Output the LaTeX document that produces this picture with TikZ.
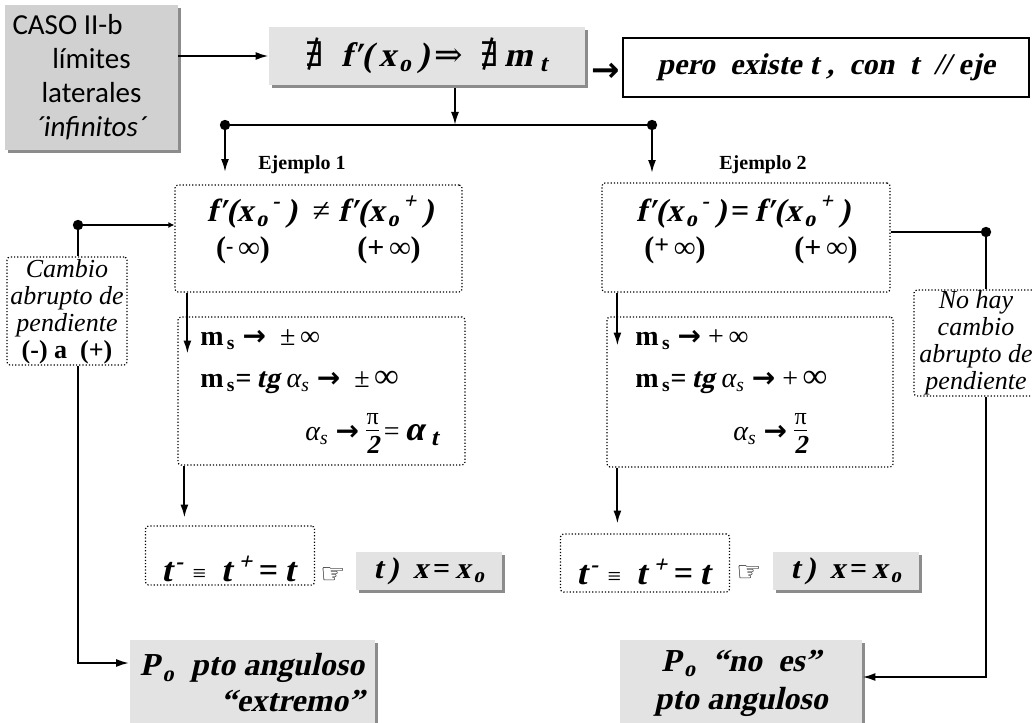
\documentclass[tikz,border=0pt]{standalone}
\usepackage{fontspec}
\setmainfont{Liberation Serif}[BoldItalicFont={Liberation Serif Bold},BoldItalicFeatures={FakeSlant=0.22}]
\newfontfamily\calib{Carlito}
\newfontfamily\djs{DejaVu Sans}
\newfontfamily\djserif{DejaVu Serif}
\usetikzlibrary{arrows.meta,shadows,calc}
\newcommand{\bi}{\bfseries\itshape}
\newcommand{\fs}[1]{\fontsize{#1}{#1}\selectfont}
\newcommand{\mysub}[1]{\kern1.5pt\textsubscript{#1}}
\newcommand{\mysup}[1]{\kern1.5pt\textsuperscript{#1}}
\newcommand{\pifrac}{\begin{tabular}{@{}c@{}}\fs{12}\mdseries π\\[-1pt]\hline\rule{0pt}{11pt}\fs{13}\bfseries\itshape 2\end{tabular}}
\tikzset{
  conn/.style={line width=1pt},
  arr/.style={conn,-{Latex[length=6.5pt,width=4pt]}},
  dotbox/.style={draw,densely dotted,line width=0.6pt,rounded corners=1.5pt,inner sep=0},
  graybox/.style={fill=black!11,inner sep=0,drop shadow={shadow xshift=1.5pt,shadow yshift=-1.5pt,fill=black!45,opacity=1}},
  txt/.style={inner sep=0},
}
\begin{document}
\begin{tikzpicture}[x=0.5pt,y=-0.5pt]
\useasboundingbox (0,0) rectangle (1032,722);

% case box
\node[graybox,fill=black!18,minimum width=86.5pt,minimum height=72.5pt,align=center,
      font=\calib\fontsize{14.5}{17}\selectfont] (caso) at (91.5,77.5)
  {\makebox[79pt][l]{CASO II-b}\\límites\\laterales\\\textit{´infinitos´}};

% top box
\node[graybox,minimum width=158pt,minimum height=29pt,font=\bi\fs{17}] (top) at (427,56)
  {{\djserif\mdseries\upshape ∄}\ \ f′(\,x\mysub{o}\,)\,{\djserif\mdseries\upshape ⇒}\ \ {\djserif\mdseries\upshape ∄}\,m\mysub{\,t}};
\draw[arr] (caso.east |- top.west) -- (top.west);

% pero box
\node[draw,line width=0.8pt,minimum width=203pt,minimum height=29.5pt,inner sep=0,font=\bi\fs{15}] (pero) at (826,67.5)
  {pero\ \ existe t ,\ \ con\ \ t\ \ // eje};
\node[txt,font=\djs\bfseries\fs{17}] (parr) at (606,72) {→};

% junction
\coordinate (jl) at (225,125);
\coordinate (jr) at (652,125);
\draw[arr] ([xshift=14pt,yshift=-1.5pt]top.south) -- ([xshift=14pt]top.south |- jl);
\draw[conn] (jl) -- (jr);
\fill (jl) circle[radius=2.6pt];
\fill (jr) circle[radius=2.6pt];
\draw[arr] (jl) -- ++(0,47);
\draw[arr] (jr) -- ++(0,48);

\node[txt,font=\bfseries\fs{10}] (e1lab) at (302,165) {Ejemplo 1};
\node[txt,font=\bfseries\fs{10}] (e2lab) at (763,165) {Ejemplo 2};

% example 1
\node[dotbox,minimum width=143.5pt,minimum height=53.5pt] (ex1) at (318.5,238.5) {};
\node[txt,font=\bi\fs{16}] (e1a) at (320,212)
  {f′(x\mysub{o}\textsuperscript{\,-}\,)\ \ {\upshape\mdseries ≠}\ f′(x\mysub{o}\textsuperscript{\,+}\,)};
\node[txt,font=\bfseries\fs{15}] (e1b) at (243,250) {(\raisebox{2pt}{\fs{11}-}\,∞)};
\node[txt,font=\bfseries\fs{15}] (e1c) at (389,250) {(+\,∞)};

% example 2
\node[dotbox,minimum width=144pt,minimum height=54.5pt] (ex2) at (746,237.5) {};
\node[txt,font=\bi\fs{16}] (e2a) at (743,212)
  {f′(x\mysub{o}\textsuperscript{\,-}\,)\,{\upshape =}\,f′(x\mysub{o}\textsuperscript{\,+}\,)};
\node[txt,font=\bfseries\fs{15}] (e2b) at (675,250) {(\raisebox{2pt}{\fs{13}+}\,∞)};
\node[txt,font=\bfseries\fs{15}] (e2c) at (826,250) {(+\,∞)};

% side boxes
\node[dotbox,minimum width=60pt,minimum height=54pt,align=center,font=\itshape\fontsize{13}{13.5}\selectfont] (cambio) at (67,311)
  {\rule{0pt}{10pt}Cambio\\abrupto de\\pendiente\\{\upshape\bfseries (-) a\ \ (+)}};
\node[dotbox,minimum width=62pt,minimum height=53pt,align=center,font=\itshape\fontsize{13}{13.5}\selectfont] (nohay) at (976,343)
  {No hay\\cambio\\abrupto de\\pendiente};

\coordinate (jc) at (78,225);
\draw[conn] (jc |- cambio.north) -- (jc);
\draw[conn,-{Latex[length=3pt,width=3pt]}] (jc) -- (jc -| ex1.west);
\fill (jc) circle[radius=2.6pt];

\coordinate (jn) at (986,232);
\draw[conn] (jn -| ex2.east) -- (jn) -- (jn |- nohay.north);
\fill (jn) circle[radius=2.6pt];

% second level boxes
\node[dotbox,minimum width=143.5pt,minimum height=74pt] (l2) at (321.5,391) {};
\node[txt,anchor=west,font=\fs{14}] (l2a) at (200,340)
  {\textbf{m\textsubscript{\,s}} {\djs\bfseries →}\ \ ±\,∞};
\node[txt,anchor=west,font=\fs{14}] (l2b) at (200,382)
  {\textbf{m\textsubscript{\,s}=\,\textit{tg}} \textit{α\textsubscript{s}} {\djs\bfseries →}\ \ ±\,{\bfseries\fs{17}∞}};
\node[txt,anchor=west,font=\fs{14}] (l2c) at (305,433)
  {\textit{α\textsubscript{s}} {\djs\bfseries →} \pifrac\,=\,{\bi\fs{17}α\mysub{\,t}}};

\node[dotbox,minimum width=143pt,minimum height=75pt] (r2) at (750,392) {};
\node[txt,anchor=west,font=\fs{14}] (r2a) at (635,340)
  {\textbf{m\textsubscript{\,s}} {\djs\bfseries →} +\,∞};
\node[txt,anchor=west,font=\fs{14}] (r2b) at (635,382)
  {\textbf{m\textsubscript{\,s}=\,\textit{tg}} \textit{α\textsubscript{s}} {\djs\bfseries →} +\,{\bfseries\fs{17}∞}};
\node[txt,anchor=west,font=\fs{14}] (r2c) at (733,433)
  {\textit{α\textsubscript{s}} {\djs\bfseries →}\ \pifrac};

\draw[arr] ([xshift=6.5pt]ex1.south west) -- ++(0,61);
\draw[arr] ([xshift=8pt]ex2.south west) -- ++(0,53);
\draw[arr] ([xshift=3.5pt]l2.south west) -- ++(0,52);
\draw[arr] ([xshift=5.5pt]r2.south west) -- ++(0,56);

% third level
\node[dotbox,minimum width=84.5pt,minimum height=29.5pt] (l3) at (230,555.5) {};
\node[txt,font=\bi\fs{17}] (l3t) at (228,569)
  {t\mysup{-}\ {\upshape\mdseries\fs{12}≡}\ \,t\mysup{\,+}\,{\upshape=}\,t};
\node[txt,font=\djs\fs{14}] (hand1) at (333,576) {☞};
\node[graybox,minimum width=73pt,minimum height=19pt,font=\bi\fs{15}] (tb1) at (429,571)
  {t\,)\ \ x\,{\upshape =}\,x\mysub{o}};

\node[dotbox,minimum width=84.5pt,minimum height=29pt] (l3r) at (645,563) {};
\node[txt,font=\bi\fs{17}] (l3rt) at (643,572)
  {t\mysup{-}\ {\upshape\mdseries\fs{12}≡}\ \,t\mysup{\,+}\,{\upshape=}\,t};
\node[txt,font=\djs\fs{14}] (hand2) at (749,574) {☞};
\node[graybox,minimum width=73pt,minimum height=19pt,font=\bi\fs{15}] (tb2) at (846,571)
  {t\,)\ \ x\,{\upshape =}\,x\mysub{o}};

% bottom boxes
\node[graybox,minimum width=122.5pt,minimum height=43pt,align=right,font=\bi\fontsize{16}{18}\selectfont] (po1) at (252,683)
  {P\mysub{o}\ \ pto anguloso\\“extremo”};
\node[graybox,minimum width=121pt,minimum height=43pt,align=center,font=\bi\fontsize{16}{19}\selectfont] (po2) at (741,683)
  {P\mysub{o}\ \ “no\ \ es”\\pto anguloso};

\coordinate (lp) at (78,663);
\draw[arr] (jc |- cambio.south) -- (lp) -- (lp -| po1.west);
\coordinate (rp) at (986,677);
\draw[arr] (jn |- nohay.south) -- (rp) -- (rp -| po2.east);
\end{tikzpicture}
\end{document}
